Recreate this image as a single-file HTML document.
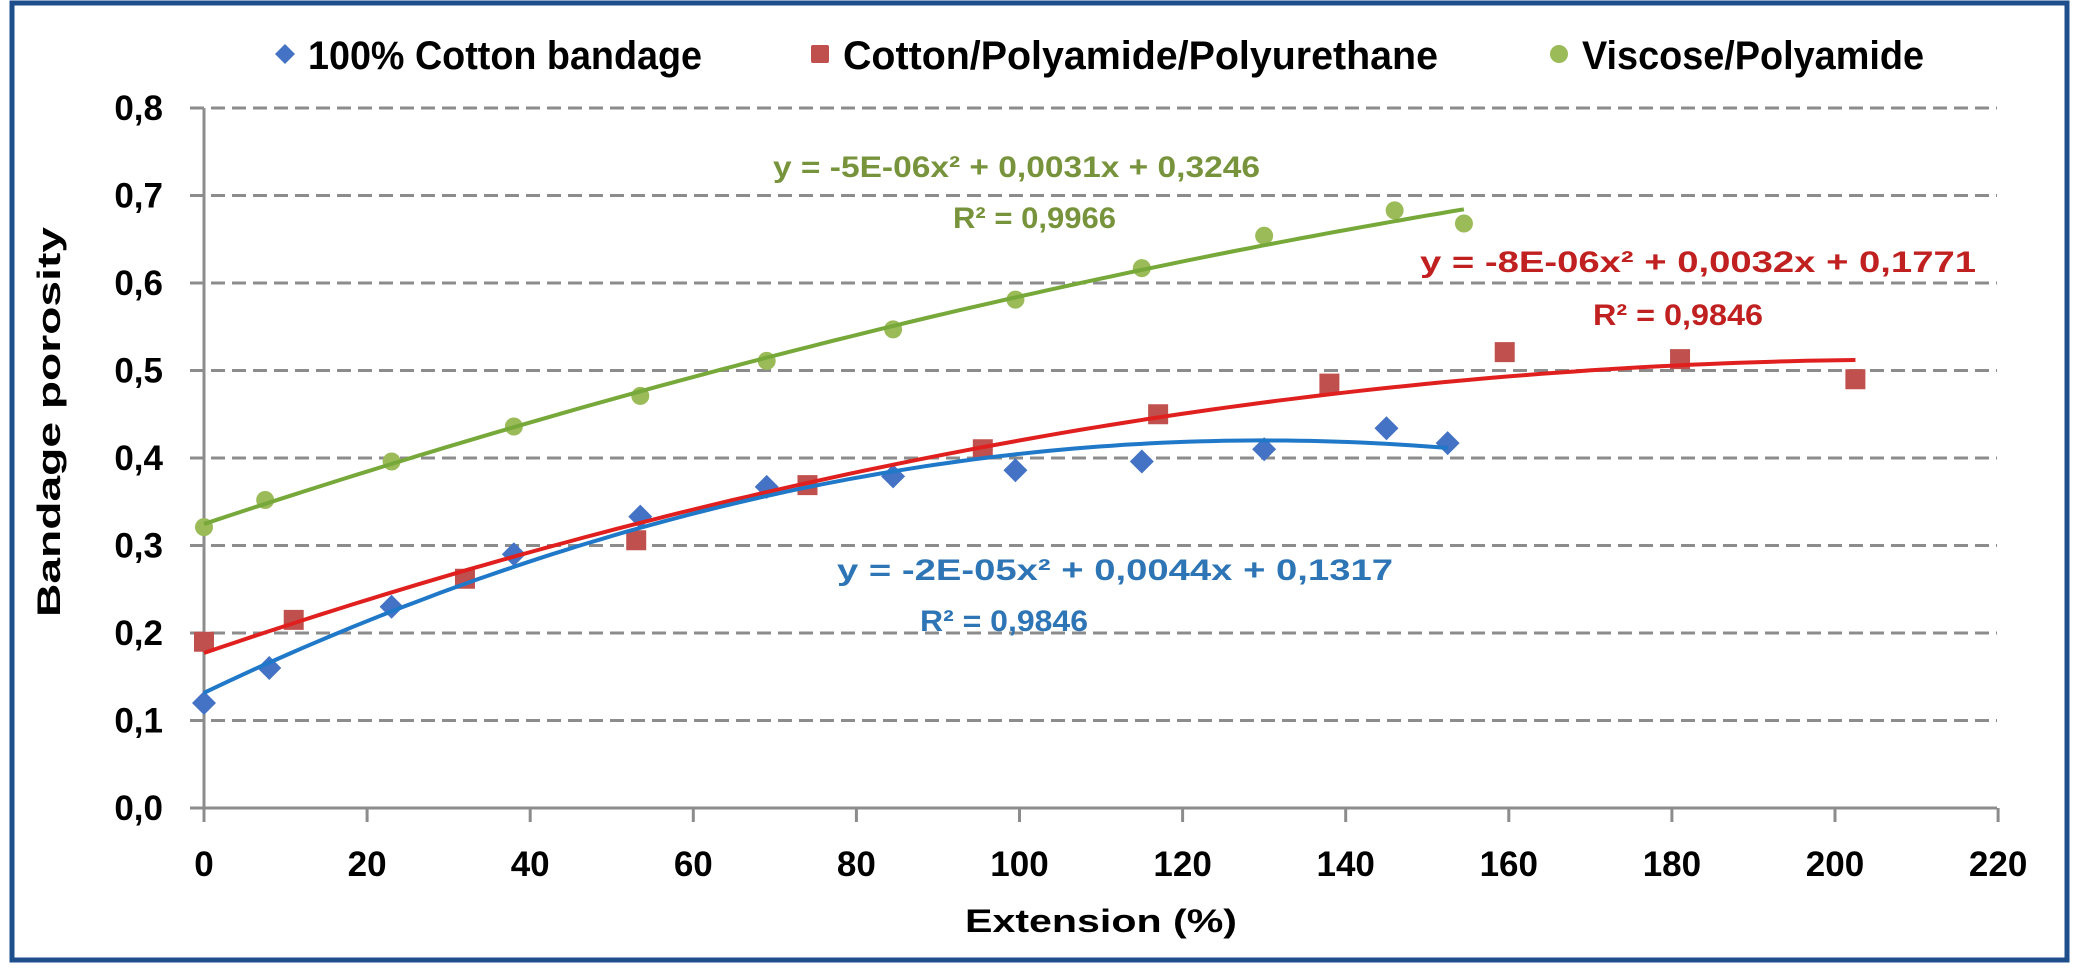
<!DOCTYPE html>
<html><head><meta charset="utf-8"><style>
html,body{margin:0;padding:0;background:#fff;}
svg{display:block;font-family:"Liberation Sans",sans-serif;font-weight:bold;}
</style></head><body>
<svg id="s" width="2085" height="971" viewBox="0 0 2085 971" xmlns="http://www.w3.org/2000/svg">
<rect x="12" y="3" width="2055" height="957" fill="#fff" stroke="#1f4e8c" stroke-width="5"/>
<g id="grid" stroke="#8c8c8c" stroke-width="3" stroke-dasharray="14,7"></g>
<g stroke="#8c8c8c" stroke-width="3" fill="none">
<line x1="204" y1="108" x2="204" y2="815"/>
<line x1="190" y1="808" x2="1997" y2="808"/>
</g>
<g id="ticks" stroke="#8c8c8c" stroke-width="3"></g>
<g id="labels" font-size="35" fill="#000"></g>
<g id="series"></g>
<text x="60" y="422" font-size="32" text-anchor="middle" transform="rotate(-90 60 422)" textLength="390" lengthAdjust="spacingAndGlyphs">Bandage porosity</text>
<text x="1101" y="932" font-size="32" text-anchor="middle" textLength="272" lengthAdjust="spacingAndGlyphs">Extension (%)</text>
<!-- legend -->
<path d="M285 44 L295 54 L285 64 L275 54 Z" fill="#4472c4"/>
<text x="308" y="69" font-size="40" textLength="394" lengthAdjust="spacingAndGlyphs">100% Cotton bandage</text>
<rect x="811" y="45" width="18" height="18" rx="2" fill="#c0504d"/>
<text x="843" y="69" font-size="40" textLength="595" lengthAdjust="spacingAndGlyphs">Cotton/Polyamide/Polyurethane</text>
<circle cx="1559" cy="54" r="9" fill="#9bbb59"/>
<text x="1582" y="69" font-size="40" textLength="342" lengthAdjust="spacingAndGlyphs">Viscose/Polyamide</text>
<!-- equations -->
<g font-size="30">
<text x="773" y="177" fill="#77933c" textLength="487" lengthAdjust="spacingAndGlyphs">y = -5E-06x² + 0,0031x + 0,3246</text>
<text x="953" y="228" fill="#77933c" textLength="163" lengthAdjust="spacingAndGlyphs">R² = 0,9966</text>
<text x="1420" y="272" fill="#c0201f" textLength="556" lengthAdjust="spacingAndGlyphs">y = -8E-06x² + 0,0032x + 0,1771</text>
<text x="1593" y="325" fill="#c0201f" textLength="170" lengthAdjust="spacingAndGlyphs">R² = 0,9846</text>
<text x="837" y="580" fill="#2e75b6" textLength="556" lengthAdjust="spacingAndGlyphs">y = -2E-05x² + 0,0044x + 0,1317</text>
<text x="920" y="631" fill="#2e75b6" textLength="168" lengthAdjust="spacingAndGlyphs">R² = 0,9846</text>
</g>
</svg>
<script>
var NS="http://www.w3.org/2000/svg";
function X(v){return 204+v*8.155;}
function Y(v){return 808-v*875;}
function el(p,t,a,txt){var e=document.createElementNS(NS,t);for(var k in a)e.setAttribute(k,a[k]);if(txt!=null)e.textContent=txt;document.getElementById(p).appendChild(e);return e;}
for(var i=1;i<=8;i++){el("grid","line",{x1:190,x2:1997,y1:Y(i/10),y2:Y(i/10)});}
for(var i=0;i<=8;i++){el("labels","text",{x:163,y:Y(i/10)+12,"text-anchor":"end"},"0,"+i);}
for(var v=0;v<=220;v+=20){el("ticks","line",{x1:X(v),x2:X(v),y1:808,y2:822});el("labels","text",{x:X(v),y:876,"text-anchor":"middle"},String(v));}
var blue=[[0,0.12],[8,0.16],[23,0.23],[38,0.29],[53.5,0.333],[69,0.367],[84.5,0.379],[99.5,0.386],[115,0.396],[130,0.41],[145,0.434],[152.5,0.417]];
var red=[[0,0.19],[11,0.215],[32,0.262],[53,0.306],[74,0.369],[95.5,0.41],[117,0.45],[138,0.485],[159.5,0.521],[181,0.513],[202.5,0.49]];
var green=[[0,0.321],[7.5,0.352],[23,0.396],[38,0.436],[53.5,0.471],[69,0.511],[84.5,0.547],[99.5,0.581],[115,0.617],[130,0.654],[146,0.683],[154.5,0.668]];
function curve(a,b,c,x1,col){var d="";for(var x=0;x<=x1+0.01;x+=x1/100){d+=(d?"L":"M")+X(x).toFixed(1)+" "+Y(a*x*x+b*x+c).toFixed(1);}el("series","path",{d:d,fill:"none",stroke:col,"stroke-width":4});}
green.forEach(function(p){el("series","circle",{cx:X(p[0]),cy:Y(p[1]),r:9,fill:"#9bbb59"});});
red.forEach(function(p){el("series","rect",{x:X(p[0])-10,y:Y(p[1])-10,width:20,height:20,fill:"#c0504d"});});
blue.forEach(function(p){var x=X(p[0]),y=Y(p[1]);el("series","path",{d:"M"+x+" "+(y-12)+"L"+(x+12)+" "+y+"L"+x+" "+(y+12)+"L"+(x-12)+" "+y+"Z",fill:"#4472c4"});});
curve(-5e-6,0.0031,0.3246,154.5,"#77a83a");
curve(-7.57e-6,0.003187,0.1771,202.5,"#e0201f");
curve(-1.706e-5,0.004436,0.1317,152.5,"#1f78c8");
</script>
</body></html>
